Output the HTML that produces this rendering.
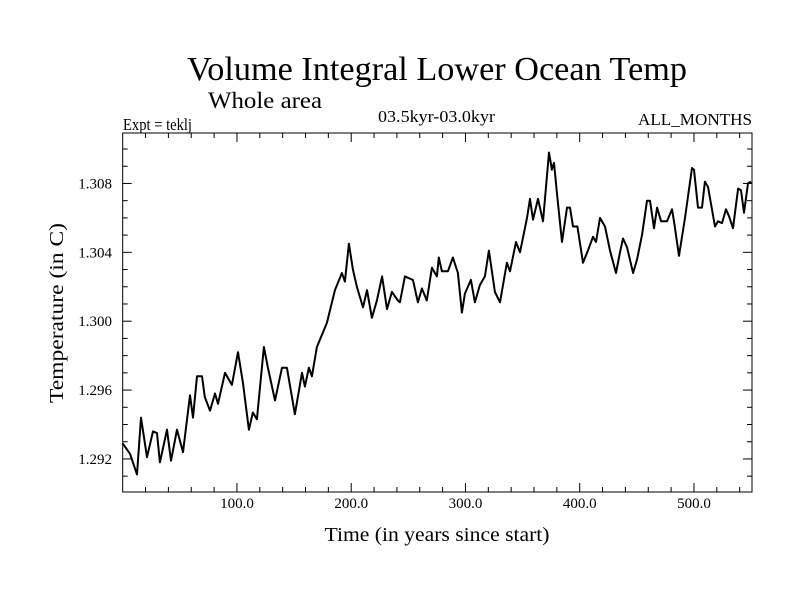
<!DOCTYPE html>
<html><head><meta charset="utf-8"><style>
html,body{margin:0;padding:0;background:#fff;}
svg{display:block;font-family:"Liberation Serif",serif;}
</style></head><body>
<svg id="chart" width="800" height="600" viewBox="0 0 800 600">
<text x="437" y="80" font-size="34" text-anchor="middle" textLength="500" lengthAdjust="spacingAndGlyphs">Volume Integral Lower Ocean Temp</text>
<text x="208" y="108" font-size="23" textLength="114" lengthAdjust="spacingAndGlyphs">Whole area</text>
<text x="123" y="130" font-size="17" textLength="69" lengthAdjust="spacingAndGlyphs">Expt = teklj</text>
<text x="378" y="122" font-size="17" textLength="117" lengthAdjust="spacingAndGlyphs">03.5kyr-03.0kyr</text>
<text x="752" y="125" font-size="17" text-anchor="end" textLength="114" lengthAdjust="spacingAndGlyphs">ALL_MONTHS</text>
<text x="437" y="541" font-size="20" text-anchor="middle" textLength="225" lengthAdjust="spacingAndGlyphs">Time (in years since start)</text>
<text transform="translate(63,313) rotate(-90)" font-size="20" text-anchor="middle" textLength="180" lengthAdjust="spacingAndGlyphs">Temperature (in C)</text>
<g id="axes"></g>
<g id="series"></g>
<rect x="122.7" y="133" width="629.3" height="359" fill="none" stroke="#000" stroke-width="1"/>
</svg>
<script>
const years = [0,6.4,12.5,16,21.3,26.5,30,32.6,38.8,42.3,47.5,52.8,58.9,61.5,65,69.4,71.9,76.4,80.8,83.4,89.5,95.6,100.9,105.3,110.5,114,117.5,123.6,127.1,133.3,139.4,143.7,150.7,156.9,159.5,163,165.6,170,178.7,185.7,191.9,194.5,198,201.5,205,210.3,213.8,218.1,222.5,227,231.3,235.6,240.9,242.6,247,254,258.4,261.9,266.2,270.6,275,276.7,279.4,284.6,289,293.4,296.9,299.5,304.8,308.3,312.6,317,320.5,325.8,330.2,336.3,339,344.2,347.7,353.9,356.5,359.1,363.5,367.9,373.1,375.7,377.5,380.1,384.5,388.9,391.5,394.1,398,402.9,407.2,411.6,414.3,417.8,422.1,426.5,431.8,435.3,437.9,441.4,446.7,450.2,454.5,458.9,461.5,465,467.7,471.2,476.4,480.8,482.5,486.9,492.2,498.3,500,503.5,507,509.6,512.3,518.4,521,524.5,528,530.7,534.2,538.6,541.2,543.8,547.3,550];
const temps = [1.2929,1.2923,1.2911,1.2944,1.2921,1.2936,1.2935,1.2918,1.2937,1.2919,1.2937,1.2924,1.2957,1.2944,1.2968,1.2968,1.2956,1.2948,1.2958,1.2952,1.2970,1.2963,1.2982,1.2964,1.2937,1.2947,1.2943,1.2985,1.2973,1.2954,1.2973,1.2973,1.2946,1.2970,1.2962,1.2973,1.2968,1.2985,1.2999,1.3018,1.3028,1.3023,1.3045,1.3030,1.3020,1.3008,1.3018,1.3002,1.3012,1.3026,1.3007,1.3017,1.3012,1.3011,1.3026,1.3024,1.3011,1.3019,1.3012,1.3031,1.3026,1.3037,1.3029,1.3029,1.3037,1.3028,1.3005,1.3016,1.3024,1.3011,1.3021,1.3026,1.3041,1.3017,1.3011,1.3034,1.3029,1.3046,1.3040,1.3060,1.3071,1.3059,1.3071,1.3058,1.3098,1.3088,1.3092,1.3074,1.3046,1.3066,1.3066,1.3055,1.3055,1.3034,1.3041,1.3049,1.3046,1.3060,1.3055,1.3041,1.3028,1.3040,1.3048,1.3043,1.3028,1.3036,1.3050,1.3070,1.3070,1.3054,1.3066,1.3058,1.3058,1.3065,1.3058,1.3038,1.3060,1.3089,1.3088,1.3066,1.3066,1.3081,1.3078,1.3055,1.3058,1.3057,1.3065,1.3061,1.3054,1.3077,1.3076,1.3063,1.3080,1.3081];
const xTickValues = [100,200,300,400,500];
const xTickLabels = ["100.0","200.0","300.0","400.0","500.0"];
const yTickValues = [1.292,1.296,1.300,1.304,1.308];
const yTickLabels = ["1.292","1.296","1.300","1.304","1.308"];

const L=122.7,R=752,T=133,B=492,XMIN=0,XMAX=550.8,YMIN=1.29008,YMAX=1.31093;
function sx(v){return L+(v-XMIN)/(XMAX-XMIN)*(R-L);}
function sy(v){return B-(v-YMIN)/(YMAX-YMIN)*(B-T);}
const NS="http://www.w3.org/2000/svg";
const axes=document.getElementById('axes');
function mk(tag,attrs,parent){const e=document.createElementNS(NS,tag);for(const k in attrs)e.setAttribute(k,attrs[k]);parent.appendChild(e);return e;}
// minor x ticks every 20 years
for(let v=20;v<XMAX;v+=20){
  const major=v%100===0;const len=major?9:5;
  const t1=mk('line',{x1:sx(v),x2:sx(v),y1:B,y2:B-len,stroke:'#000','stroke-width':1},axes);
  
  
  const t2=mk('line',{x1:sx(v),x2:sx(v),y1:T,y2:T+len,stroke:'#000','stroke-width':1},axes);
  
  
}
for(let i=1;i<21;i++){
  const v=YMIN+0.00092+i*0.001; // placeholder not used
}
for(let k=1291;k<=1310;k++){
  const v=k/1000;const major=(k-1292)%4===0;const len=major?9:5;
  const t1=mk('line',{x1:L,x2:L+len,y1:sy(v),y2:sy(v),stroke:'#000','stroke-width':1},axes);
  
  
  const t2=mk('line',{x1:R,x2:R-len,y1:sy(v),y2:sy(v),stroke:'#000','stroke-width':1},axes);
  
  
}
xTickValues.forEach((v,i)=>{
  const t=mk('text',{x:sx(v),y:508,'font-size':15,'text-anchor':'middle'},axes);
  t.textContent=xTickLabels[i];
  
  
});
yTickValues.forEach((v,i)=>{
  const t=mk('text',{x:112,y:sy(v)+5,'font-size':15,'text-anchor':'end'},axes);
  t.textContent=yTickLabels[i];
  
  
});
const d=years.map((y,i)=>(i?'L':'M')+sx(y).toFixed(1)+','+sy(temps[i]).toFixed(1)).join('');
const p=mk('path',{d:d,fill:'none',stroke:'#000','stroke-width':2,'stroke-linejoin':'round'},document.getElementById('series'));


</script>
</body></html>
